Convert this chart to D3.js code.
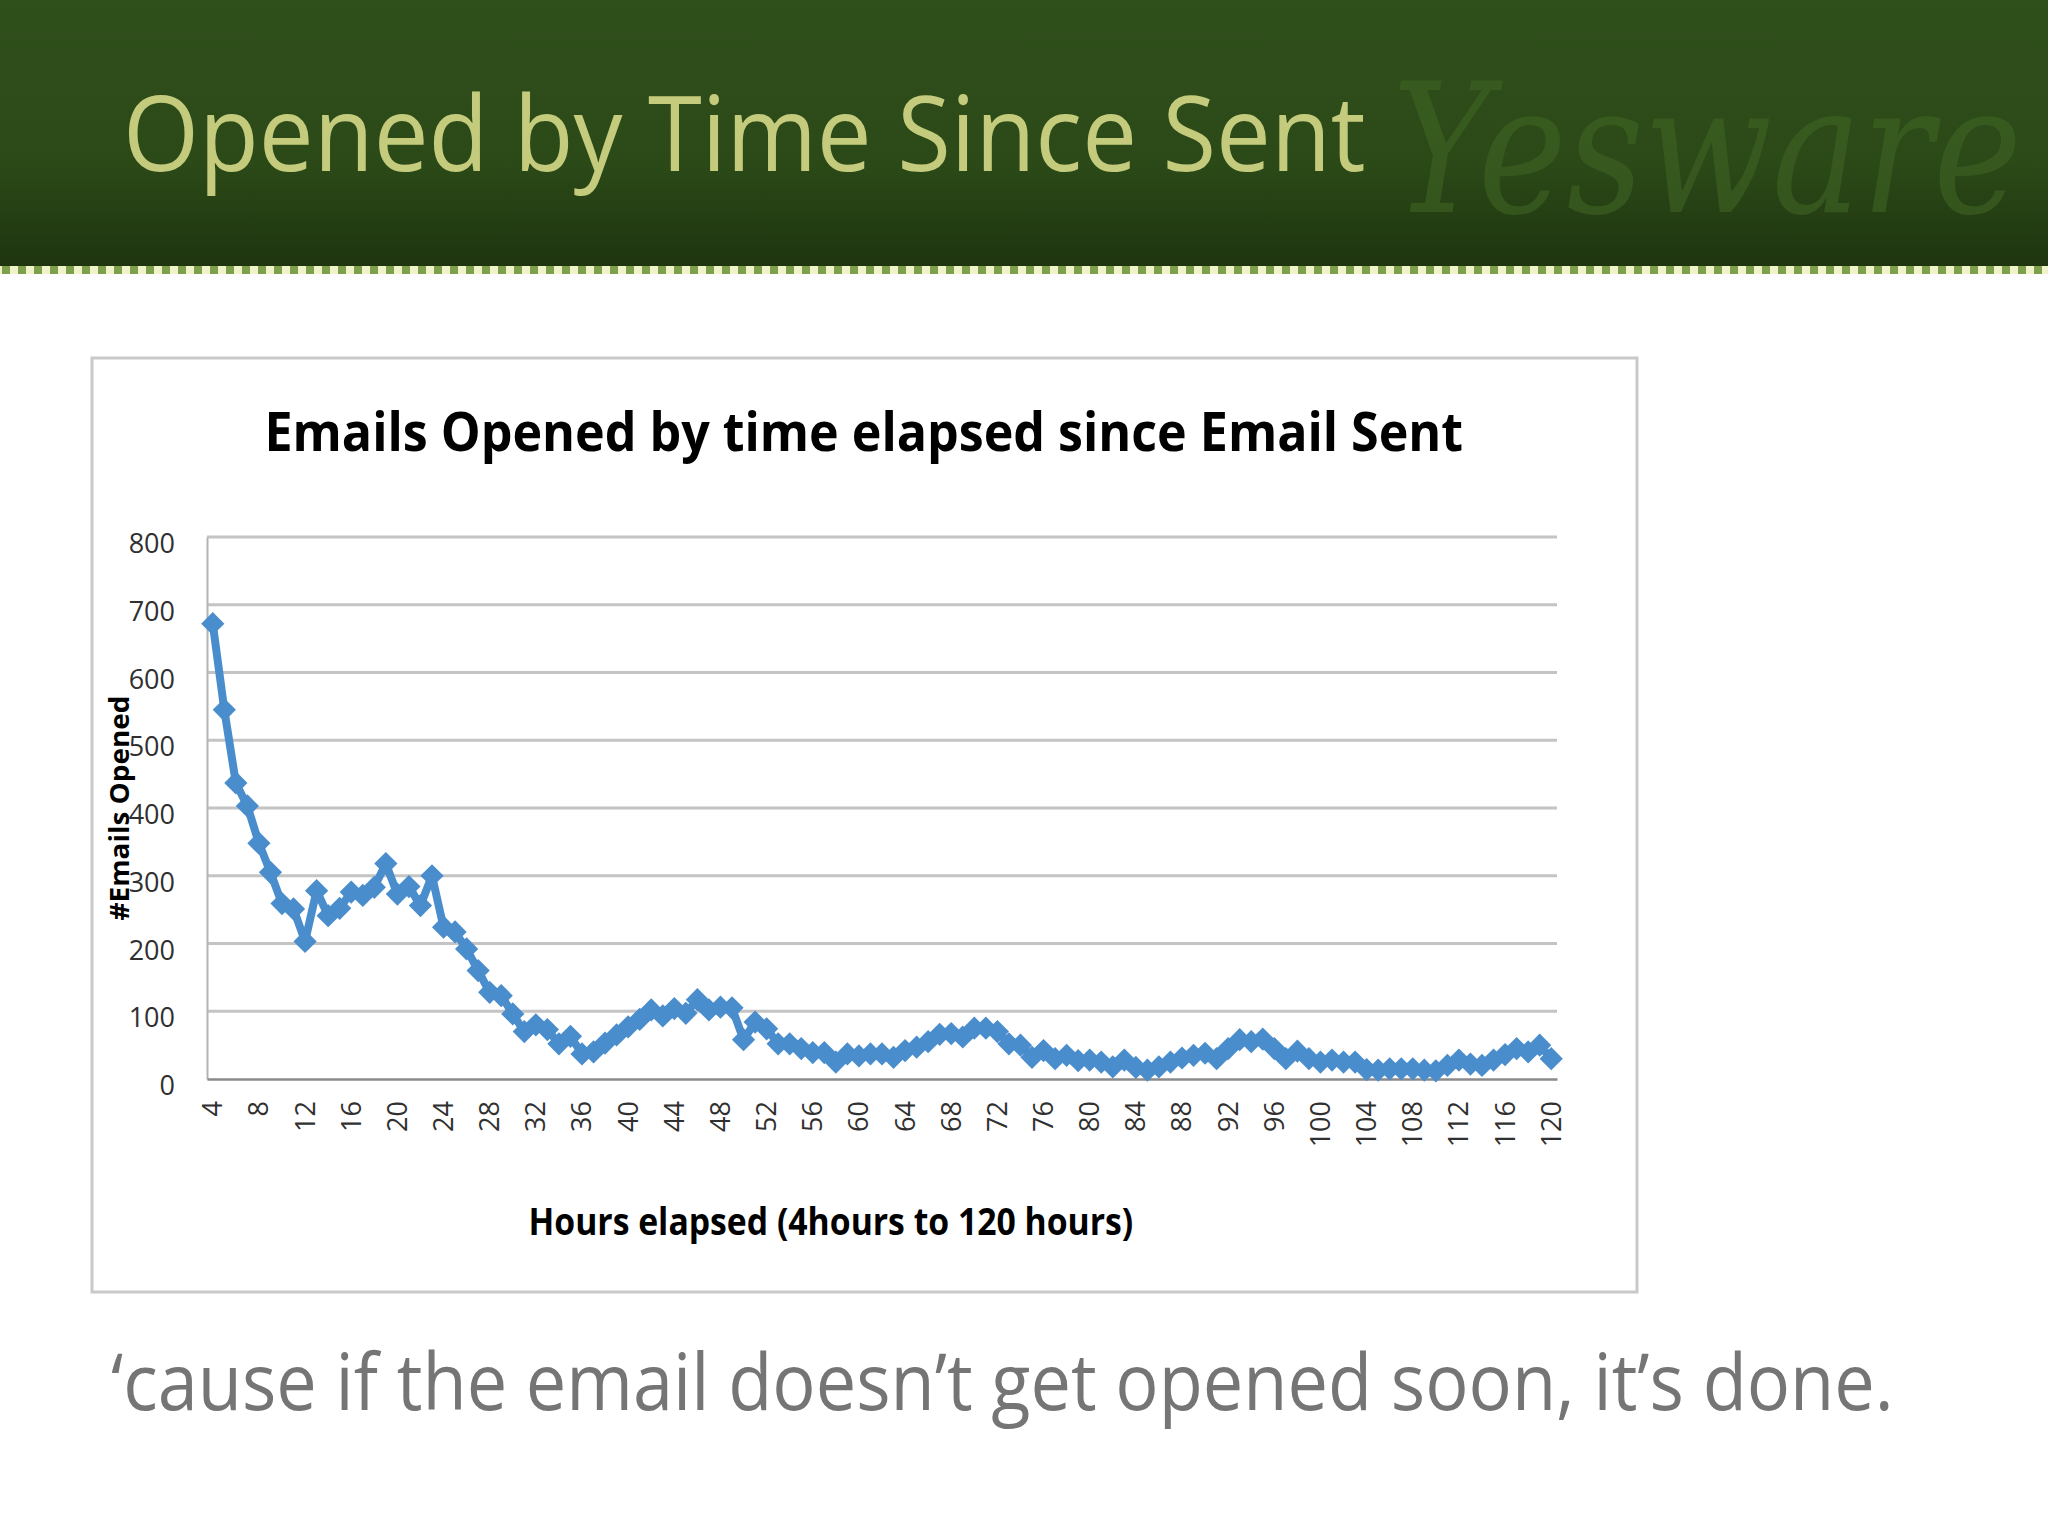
<!DOCTYPE html>
<html>
<head>
<meta charset="utf-8">
<script src="https://cdn.jsdelivr.net/npm/d3@7"></script>
<style>
  html, body { margin: 0; padding: 0; background: #ffffff; }
  svg { display: block; }
</style>
</head>
<body>
<svg id="chart" width="2048" height="1536"></svg>
<script>
// ---- data ----
const slideTitle = "Opened by Time Since Sent";
const chartTitle = "Emails Opened by time elapsed since Email Sent";
const yAxisTitle = "#Emails Opened";
const xAxisTitle = "Hours elapsed (4hours to 120 hours)";
const footerText = "\u2018cause if the email doesn\u2019t get opened soon, it\u2019s done.";
const watermark = "Yesware";

// hours 4..120 (one category per hour)
const hours = d3.range(4, 121);
const opened = [
  672, 545, 437, 403, 348, 305, 259, 251, 203, 278,   // 4-13
  241, 252, 276, 271, 283, 318, 273, 284, 256, 300,   // 14-23
  224, 217, 192, 160, 128, 123, 96, 70, 80, 73,       // 24-33
  52, 63, 37, 40, 53, 65, 77, 88, 102, 93,            // 34-43
  104, 97, 117, 102, 106, 105, 58, 84, 74, 52,        // 44-53
  52, 45, 39, 39, 25, 37, 34, 37, 37, 32,             // 54-63
  42, 47, 55, 66, 67, 62, 75, 75, 70, 52,             // 64-73
  50, 32, 42, 30, 35, 27, 28, 25, 18, 28,             // 74-83
  17, 13, 18, 25, 31, 35, 38, 30, 45, 58,             // 84-93
  55, 59, 45, 30, 41, 30, 25, 28, 25, 25,             // 94-103
  14, 13, 15, 15, 15, 13, 12, 20, 28, 22,             // 104-113
  20, 28, 36, 45, 40, 50, 30                          // 114-120
];
const xTickLabels = d3.range(4, 121, 4);
const yTicks = [0, 100, 200, 300, 400, 500, 600, 700, 800];

// ---- drawing ----
const svg = d3.select("#chart");
const defs = svg.append("defs");

// place a text so that its width is exactly `w`, by horizontal scaling
function fitText(sel, x0, y0, w, anchor) {
  const natural = sel.node().getComputedTextLength();
  const s = w / natural;
  const left = anchor === "middle" ? x0 - w / 2 : x0;
  sel.attr("text-anchor", "start").attr("x", 0).attr("y", 0)
     .attr("transform", `translate(${left},${y0}) scale(${s},1)`);
}

const grad = defs.append("linearGradient").attr("id", "hdr")
  .attr("x1", 0).attr("y1", 0).attr("x2", 0).attr("y2", 1);
grad.append("stop").attr("offset", "0%").attr("stop-color", "#2f4f1b");
grad.append("stop").attr("offset", "60%").attr("stop-color", "#2c4a18");
grad.append("stop").attr("offset", "100%").attr("stop-color", "#1e350f");

svg.append("rect").attr("x", 0).attr("y", 0).attr("width", 2048).attr("height", 266)
  .attr("fill", "url(#hdr)");

// dotted strip under header
svg.append("line").attr("x1", 0).attr("x2", 2048).attr("y1", 270).attr("y2", 270)
  .attr("stroke", "#eef3c8").attr("stroke-width", 8);
svg.append("line").attr("x1", 2).attr("x2", 2048).attr("y1", 270).attr("y2", 270)
  .attr("stroke", "#7f9f4c").attr("stroke-width", 8).attr("stroke-dasharray", "8,8");

// watermark
const wm = svg.append("text").text(watermark)
  .attr("font-family", "'DejaVu Serif', serif").attr("font-style", "italic")
  .attr("font-size", 180).attr("fill", "#3f6424").attr("opacity", 0.6);
fitText(wm, 1392, 212, 630, "start");

// slide title
const st = svg.append("text").text(slideTitle)
  .attr("font-family", "'Open Sans', sans-serif").attr("font-size", 104)
  .attr("fill", "#c4cb7c");
fitText(st, 123, 171, 1243, "start");

// chart frame
svg.append("rect").attr("x", 92).attr("y", 358).attr("width", 1545).attr("height", 934)
  .attr("fill", "#ffffff").attr("stroke", "#c9c9c9").attr("stroke-width", 3);

// chart title
const ct = svg.append("text").text(chartTitle)
  .attr("font-family", "'Open Sans', sans-serif").attr("font-weight", "bold")
  .attr("font-size", 54).attr("fill", "#000");
fitText(ct, 864, 451, 1199, "middle");

// scales
const x = d3.scaleBand().domain(hours).range([207, 1557]).paddingInner(0).paddingOuter(0);
const y = d3.scaleLinear().domain([0, 800]).range([1079, 537]);
const cx = h => x(h) + x.bandwidth() / 2;

// gridlines
svg.append("g").selectAll("line").data(yTicks.filter(d => d > 0)).join("line")
  .attr("x1", 207).attr("x2", 1557)
  .attr("y1", d => y(d)).attr("y2", d => y(d))
  .attr("stroke", "#c4c4c4").attr("stroke-width", 3);

// y axis
const yAxis = d3.axisLeft(y).tickValues(yTicks).tickSize(0).tickPadding(32);
const gy = svg.append("g").attr("transform", "translate(207,0)").call(yAxis);
gy.select(".domain").attr("stroke", "#b3b3b3").attr("stroke-width", 2);
gy.selectAll("text").attr("font-family", "'Open Sans', sans-serif").attr("font-size", 27)
  .attr("fill", "#303030").attr("dy", "0.58em");

// x axis
const xAxis = d3.axisBottom(x).tickValues(xTickLabels).tickSize(0).tickPadding(0);
const gx = svg.append("g").attr("transform", "translate(0,1079)").call(xAxis);
gx.select(".domain").attr("stroke", "#8a8a8a").attr("stroke-width", 2.5);
gx.selectAll("text")
  .attr("font-family", "'Open Sans', sans-serif").attr("font-size", 27).attr("fill", "#303030")
  .attr("text-anchor", "end").attr("dy", "0.35em")
  .attr("transform", "translate(0,22) rotate(-90)")
  .attr("x", 0).attr("y", 0);

// axis titles
svg.append("text").text(yAxisTitle)
  .attr("transform", "translate(129,808) rotate(-90)")
  .attr("text-anchor", "middle")
  .attr("font-family", "'Open Sans', sans-serif").attr("font-weight", "bold")
  .attr("font-size", 26).attr("fill", "#000")
  .attr("textLength", 225).attr("lengthAdjust", "spacingAndGlyphs");

const xt = svg.append("text").text(xAxisTitle)
  .attr("font-family", "'Open Sans', sans-serif").attr("font-weight", "bold")
  .attr("font-size", 37).attr("fill", "#000");
fitText(xt, 831, 1235, 605, "middle");

// series line
const series = hours.map((h, i) => ({ h, v: opened[i] }));
const lineGen = d3.line().x(d => cx(d.h)).y(d => y(d.v));
svg.append("path").datum(series).attr("d", lineGen)
  .attr("fill", "none").attr("stroke", "#4a8dcd").attr("stroke-width", 8)
  .attr("stroke-linejoin", "round");

// diamond markers
const diamond = d3.symbol().type(d3.symbolSquare).size(270);
svg.append("g").selectAll("path").data(series).join("path")
  .attr("d", diamond)
  .attr("transform", d => `translate(${cx(d.h)},${y(d.v)}) rotate(45)`)
  .attr("fill", "#4a8dcd");

// footer
const ft = svg.append("text").text(footerText)
  .attr("font-family", "'Open Sans', sans-serif").attr("font-size", 78)
  .attr("fill", "#757575");
fitText(ft, 111, 1410, 1783, "start");
</script>
</body>
</html>
